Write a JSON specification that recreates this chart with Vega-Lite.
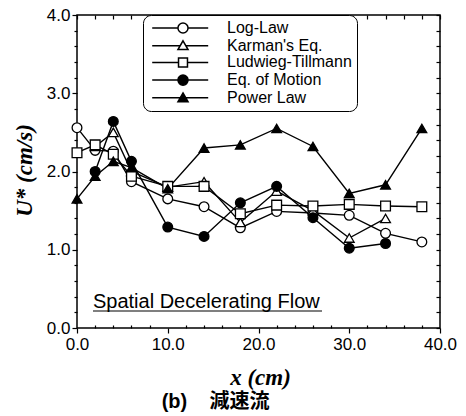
{
  "$schema": "https://vega.github.io/schema/vega-lite/v6.json",
  "width": 363,
  "height": 313,
  "autosize": {"type": "none"},
  "padding": {"left": 77, "top": 15, "right": 26, "bottom": 88},
  "background": "white",
  "config": {
    "font": "Liberation Sans",
    "view": {"stroke": "black", "strokeWidth": 1.5},
    "axis": {"grid": false, "domain": false, "tickColor": "black", "tickWidth": 1.2, "labelColor": "black", "labelFont": "Liberation Sans", "labelFontSize": 17, "labelFlush": false}
  },
  "title": {
    "text": "(b)\u00a0\u00a0\u00a0\u00a0減速流",
    "orient": "bottom",
    "anchor": "middle",
    "dx": -43,
    "offset": 3,
    "font": "Liberation Sans, Noto Sans CJK JP",
    "fontSize": 20,
    "fontWeight": "bold",
    "color": "black"
  },
  "data": {
    "values": [
      {"series": "Log-Law", "x": 0, "y": 2.56},
      {"series": "Log-Law", "x": 2, "y": 2.27},
      {"series": "Log-Law", "x": 4, "y": 2.26},
      {"series": "Log-Law", "x": 6, "y": 1.87},
      {"series": "Log-Law", "x": 10, "y": 1.65},
      {"series": "Log-Law", "x": 14, "y": 1.55},
      {"series": "Log-Law", "x": 18, "y": 1.28},
      {"series": "Log-Law", "x": 22, "y": 1.49},
      {"series": "Log-Law", "x": 26, "y": 1.47},
      {"series": "Log-Law", "x": 30, "y": 1.44},
      {"series": "Log-Law", "x": 34, "y": 1.21},
      {"series": "Log-Law", "x": 38, "y": 1.10},
      {"series": "Karman's Eq.", "x": 2, "y": 2.32},
      {"series": "Karman's Eq.", "x": 4, "y": 2.50},
      {"series": "Karman's Eq.", "x": 6, "y": 2.00},
      {"series": "Karman's Eq.", "x": 10, "y": 1.80},
      {"series": "Karman's Eq.", "x": 14, "y": 1.87},
      {"series": "Karman's Eq.", "x": 18, "y": 1.35},
      {"series": "Karman's Eq.", "x": 22, "y": 1.75},
      {"series": "Karman's Eq.", "x": 26, "y": 1.50},
      {"series": "Karman's Eq.", "x": 30, "y": 1.15},
      {"series": "Karman's Eq.", "x": 34, "y": 1.40},
      {"series": "Ludwieg-Tillmann", "x": 0, "y": 2.24},
      {"series": "Ludwieg-Tillmann", "x": 2, "y": 2.34},
      {"series": "Ludwieg-Tillmann", "x": 4, "y": 2.22},
      {"series": "Ludwieg-Tillmann", "x": 6, "y": 1.94},
      {"series": "Ludwieg-Tillmann", "x": 10, "y": 1.81},
      {"series": "Ludwieg-Tillmann", "x": 14, "y": 1.81},
      {"series": "Ludwieg-Tillmann", "x": 18, "y": 1.46},
      {"series": "Ludwieg-Tillmann", "x": 22, "y": 1.57},
      {"series": "Ludwieg-Tillmann", "x": 26, "y": 1.56},
      {"series": "Ludwieg-Tillmann", "x": 30, "y": 1.58},
      {"series": "Ludwieg-Tillmann", "x": 34, "y": 1.56},
      {"series": "Ludwieg-Tillmann", "x": 38, "y": 1.55},
      {"series": "Eq. of Motion", "x": 2, "y": 2.00},
      {"series": "Eq. of Motion", "x": 4, "y": 2.64},
      {"series": "Eq. of Motion", "x": 6, "y": 2.13},
      {"series": "Eq. of Motion", "x": 10, "y": 1.29},
      {"series": "Eq. of Motion", "x": 14, "y": 1.17},
      {"series": "Eq. of Motion", "x": 18, "y": 1.60},
      {"series": "Eq. of Motion", "x": 22, "y": 1.81},
      {"series": "Eq. of Motion", "x": 26, "y": 1.41},
      {"series": "Eq. of Motion", "x": 30, "y": 1.02},
      {"series": "Eq. of Motion", "x": 34, "y": 1.08},
      {"series": "Power Law", "x": 0, "y": 1.65},
      {"series": "Power Law", "x": 2, "y": 1.94},
      {"series": "Power Law", "x": 4, "y": 2.13},
      {"series": "Power Law", "x": 6, "y": 2.05},
      {"series": "Power Law", "x": 10, "y": 1.78},
      {"series": "Power Law", "x": 14, "y": 2.30},
      {"series": "Power Law", "x": 18, "y": 2.34},
      {"series": "Power Law", "x": 22, "y": 2.55},
      {"series": "Power Law", "x": 26, "y": 2.32},
      {"series": "Power Law", "x": 30, "y": 1.72},
      {"series": "Power Law", "x": 34, "y": 1.83},
      {"series": "Power Law", "x": 38, "y": 2.55}
    ]
  },
  "layer": [
    {
      "mark": {"type": "line", "color": "black", "strokeWidth": 1.4},
      "encoding": {
        "x": {"field": "x", "type": "quantitative", "scale": {"domain": [0, 40], "nice": false},
          "axis": {"orient": "bottom", "values": [0, 10, 20, 30, 40], "format": ".1f", "tickSize": 5, "labelPadding": 3,
            "title": "x (cm)", "titleFont": "Liberation Serif", "titleFontStyle": "italic", "titleFontWeight": "bold", "titleFontSize": 23, "titleColor": "black",
            "titleX": 183, "titleY": 49, "titleBaseline": "middle", "titleAlign": "center"}},
        "y": {"field": "y", "type": "quantitative", "scale": {"domain": [0, 4], "nice": false},
          "axis": {"orient": "left", "values": [0, 1, 2, 3, 4], "format": ".1f", "tickSize": 5, "labelPadding": 2,
            "title": "U* (cm/s)", "titleFont": "Liberation Serif", "titleFontStyle": "italic", "titleFontWeight": "bold", "titleFontSize": 23, "titleColor": "black",
            "titleX": -53, "titleY": 155, "titleAngle": -90, "titleBaseline": "middle", "titleAlign": "center"}},
        "detail": {"field": "series"},
        "order": {"field": "x"}
      }
    },
    {
      "mark": {"type": "point", "filled": true, "stroke": "black", "strokeWidth": 1.3, "size": 95, "opacity": 1},
      "encoding": {
        "x": {"field": "x", "type": "quantitative",
          "axis": {"orient": "top", "values": [0,2,4,6,8,10,12,14,16,18,20,22,24,26,28,30,32,34,36,38,40], "labels": false, "tickSize": -4, "title": null}},
        "y": {"field": "y", "type": "quantitative",
          "axis": {"orient": "right", "values": [0,0.2,0.4,0.6,0.8,1,1.2,1.4,1.6,1.8,2,2.2,2.4,2.6,2.8,3,3.2,3.4,3.6,3.8,4], "labels": false, "tickSize": -4, "title": null}},
        "shape": {"field": "series", "type": "nominal",
          "scale": {"domain": ["Log-Law", "Karman's Eq.", "Ludwieg-Tillmann", "Eq. of Motion", "Power Law"], "range": ["circle", "triangle-up", "square", "circle", "triangle-up"]},
          "legend": null},
        "fill": {"field": "series", "type": "nominal",
          "scale": {"domain": ["Log-Law", "Karman's Eq.", "Ludwieg-Tillmann", "Eq. of Motion", "Power Law"], "range": ["white", "white", "white", "black", "black"]},
          "legend": null}
      }
    },
    {
      "data": {"values": [{"series": "Log-Law"}, {"series": "Karman's Eq."}, {"series": "Ludwieg-Tillmann"}, {"series": "Eq. of Motion"}, {"series": "Power Law"}]},
      "mark": {"type": "point", "filled": true, "stroke": "black", "strokeWidth": 1.3, "size": 196, "opacity": 0},
      "encoding": {
        "shape": {"field": "series", "type": "nominal",
          "scale": {"domain": ["Log-Law", "Karman's Eq.", "Ludwieg-Tillmann", "Eq. of Motion", "Power Law"],
            "range": ["M-4.4,0H-0.72M0.72,0H3.6M-0.72,0A0.72,0.72,0,1,0,0.72,0A0.72,0.72,0,1,0,-0.72,0Z", "M-4.4,0H-0.4M0.4,0H3.6M0,-0.7L0.72,0.55L-0.72,0.55Z", "M-4.4,0H-0.64M0.64,0H3.6M-0.64,-0.64H0.64V0.64H-0.64Z", "M-4.4,0H-0.72M0.72,0H3.6M-0.72,0A0.72,0.72,0,1,0,0.72,0A0.72,0.72,0,1,0,-0.72,0Z", "M-4.4,0H-0.4M0.4,0H3.6M0,-0.7L0.72,0.55L-0.72,0.55Z"]},
          "legend": {"orient": "none", "legendX": 66, "legendY": 0, "title": null, "padding": 5, "strokeColor": "black", "fillColor": "white", "cornerRadius": 8,
            "symbolSize": 196, "symbolOpacity": 1, "symbolOffset": 27, "labelOffset": 36, "labelFont": "Liberation Sans", "labelFontSize": 16, "labelColor": "black", "rowPadding": 0.7,
            "encode": {"legend": {"strokeWidth": {"value": 1.5}},
              "symbols": {"stroke": {"value": "black"}, "strokeWidth": {"value": 1.3}, "opacity": {"value": 1}}}}},
        "fill": {"field": "series", "type": "nominal",
          "scale": {"domain": ["Log-Law", "Karman's Eq.", "Ludwieg-Tillmann", "Eq. of Motion", "Power Law"], "range": ["white", "white", "white", "black", "black"]},
          "legend": {"orient": "none", "legendX": 66, "legendY": 0, "title": null, "padding": 5, "strokeColor": "black", "fillColor": "white", "cornerRadius": 8,
            "symbolSize": 196, "symbolOpacity": 1, "symbolOffset": 27, "labelOffset": 36, "labelFont": "Liberation Sans", "labelFontSize": 16, "labelColor": "black", "rowPadding": 0.7,
            "encode": {"legend": {"strokeWidth": {"value": 1.5}},
              "symbols": {"stroke": {"value": "black"}, "strokeWidth": {"value": 1.3}, "opacity": {"value": 1}}}}}
      }
    },
    {
      "data": {"values": [{}]},
      "mark": {"type": "text", "text": "Spatial Decelerating Flow", "align": "left", "baseline": "alphabetic", "font": "Liberation Sans", "fontSize": 20, "color": "black"},
      "encoding": {
        "x": {"datum": 1.76, "type": "quantitative",
          "axis": {"orient": "bottom", "values": [2,4,6,8,12,14,16,18,22,24,26,28,32,34,36,38], "labels": false, "tickSize": -3, "title": null}},
        "y": {"datum": 0.256, "type": "quantitative",
          "axis": {"orient": "left", "values": [0.2,0.4,0.6,0.8,1.2,1.4,1.6,1.8,2.2,2.4,2.6,2.8,3.2,3.4,3.6,3.8], "labels": false, "tickSize": 3, "title": null}}
      }
    },
    {
      "data": {"values": [{}]},
      "mark": {"type": "rule", "color": "black", "strokeWidth": 1.2},
      "encoding": {
        "x": {"datum": 1.76, "type": "quantitative", "axis": null},
        "x2": {"datum": 27.0},
        "y": {"datum": 0.217, "type": "quantitative", "axis": null}
      }
    }
  ],
  "resolve": {"axis": {"x": "independent", "y": "independent"}, "scale": {"shape": "independent", "fill": "independent"}}
}
